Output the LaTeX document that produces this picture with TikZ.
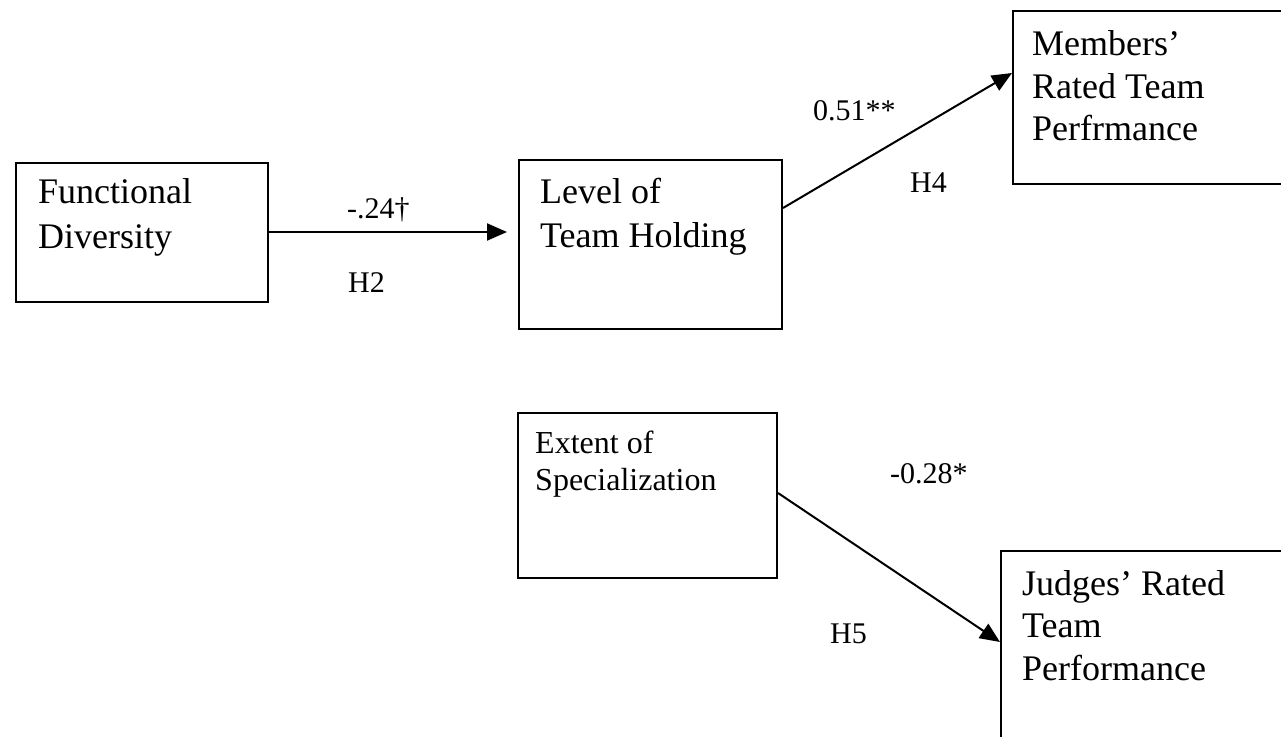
\documentclass[tikz,border=0pt]{standalone}
\usepackage{fontspec}
\setmainfont{Liberation Serif}
\usetikzlibrary{arrows.meta}
\tikzset{
  box/.style={draw, line width=2pt, anchor=north west, inner sep=0pt},
  big/.style={anchor=base west, inner sep=0pt, font=\fontsize{36}{44}\selectfont},
  mid/.style={anchor=base west, inner sep=0pt, font=\fontsize{32}{38}\selectfont},
  lab/.style={anchor=base west, inner sep=0pt, font=\fontsize{30}{36}\selectfont},
  conn/.style={line width=2pt, -{Triangle[length=20pt,width=17pt]}},
}
\begin{document}
\begin{tikzpicture}[x=1pt,y=-1pt]
\clip (0,0) rectangle (1281,736);
\fill[white] (0,0) rectangle (1281,736);
% boxes
\node[box, minimum width=252pt, minimum height=139pt] (fd) at (15,162) {};
\node[box, minimum width=263pt, minimum height=169pt] (lth) at (518,159) {};
\node[box, minimum width=300pt, minimum height=173pt] (mem) at (1012,10) {};
\node[box, minimum width=259pt, minimum height=165pt] (ext) at (517,412) {};
\node[box, minimum width=300pt, minimum height=200pt] (jdg) at (1000,550) {};
% box texts
\node[big] (fd1) at (38,203) {Functional};
\node[big] (fd2) at (38,248) {Diversity};
\node[big] (lt1) at (540,203) {Level of};
\node[big] (lt2) at (540,247) {Team Holding};
\node[big] (mr1) at (1032,55) {Members’};
\node[big] (mr2) at (1032,98) {Rated Team};
\node[big] (mr3) at (1032,140) {Perfrmance};
\node[mid] (ex1) at (535,453) {Extent of};
\node[mid] (ex2) at (535,490) {Specialization};
\node[big] (jr1) at (1022,595) {Judges’ Rated};
\node[big] (jr2) at (1022,637) {Team};
\node[big] (jr3) at (1022,680) {Performance};
% connectors
\coordinate (s1) at ([yshift=-70pt]fd.north east);
\draw[conn, shorten >=11pt] (s1) -- (s1 -| lth.west);
\coordinate (s2) at ([yshift=-49pt]lth.north east);
\coordinate (e2) at ([yshift=-63pt]mem.north west);
\draw[conn] (s2) -- (e2);
\coordinate (s3) at ([yshift=-81pt]ext.north east);
\coordinate (e3) at ([yshift=-92pt]jdg.north west);
\draw[conn] (s3) -- (e3);
% labels
\node[lab] (l1) at (347,218) {-.24†};
\node[lab] (l2) at (348,292) {H2};
\node[lab] (l3) at (813,120) {0.51**};
\node[lab] (l4) at (910,192) {H4};
\node[lab] (l5) at (890,483) {-0.28*};
\node[lab] (l6) at (830,643) {H5};
\end{tikzpicture}
\end{document}
